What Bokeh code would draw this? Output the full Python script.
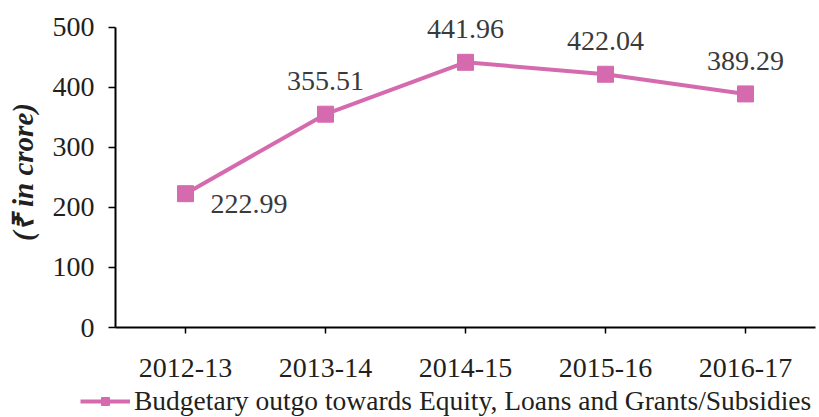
from bokeh.plotting import figure
from bokeh.layouts import column
from bokeh.models import ColumnDataSource, Range1d, Legend, LegendItem, FixedTicker
from bokeh.embed import file_html
from bokeh.resources import INLINE
from bokeh.core.properties import value

years = ["2012-13", "2013-14", "2014-15", "2015-16", "2016-17"]
outgo = [222.99, 355.51, 441.96, 422.04, 389.29]
labels = ["222.99", "355.51", "441.96", "422.04", "389.29"]
y_ticks = [0, 100, 200, 300, 400, 500]
series_name = "Budgetary outgo towards Equity, Loans and Grants/Subsidies"

COLOR = "#d56bae"
TEXT = "#231f20"
LABEL = "#3a3a3a"
FONT = "Liberation Serif"

p = figure(x_range=years, y_range=Range1d(0, 518.3), width=819, height=387,
           output_backend="svg", toolbar_location=None,
           min_border_left=115, min_border_top=16, min_border_right=4, min_border_bottom=60)
p.outline_line_color = None
p.xgrid.grid_line_color = None
p.ygrid.grid_line_color = None
p.background_fill_color = None
p.border_fill_color = "white"

src = ColumnDataSource(dict(x=years, y=outgo, t=labels))
ln = p.line("x", "y", source=src, line_color=COLOR, line_width=4)
sc = p.scatter("x", "y", source=src, marker="square", size=16,
               fill_color=COLOR, line_color=COLOR)

first = ColumnDataSource(dict(x=years[:1], y=outgo[:1], t=labels[:1]))
rest = ColumnDataSource(dict(x=years[1:], y=outgo[1:], t=labels[1:]))
p.text("x", "y", text="t", source=first, x_offset=25, y_offset=10,
       text_font=value(FONT), text_font_size="28px", text_color=LABEL,
       text_align="left", text_baseline="middle")
p.text("x", "y", text="t", source=rest, x_offset=0, y_offset=-33,
       text_font=value(FONT), text_font_size="28px", text_color=LABEL,
       text_align="center", text_baseline="middle")

for ax in (p.xaxis[0], p.yaxis[0]):
    ax.axis_line_color = "black"
    ax.axis_line_width = 2
    ax.major_tick_line_color = "black"
    ax.major_tick_line_width = 1.5
    ax.major_tick_in = 0
    ax.minor_tick_line_color = None
    ax.major_label_text_font = FONT
    ax.major_label_text_font_size = "28px"
    ax.major_label_text_color = TEXT

p.yaxis.ticker = FixedTicker(ticks=y_ticks)
p.yaxis.bounds = (0, 500)
p.yaxis.major_tick_out = 7
p.yaxis.major_label_standoff = 14
p.yaxis.axis_label = "(\u20b9 in crore)"
p.yaxis.axis_label_text_font = FONT
p.yaxis.axis_label_text_font_style = "bold italic"
p.yaxis.axis_label_text_font_size = "29px"
p.yaxis.axis_label_text_color = TEXT
p.yaxis.axis_label_standoff = 11

p.xaxis.major_tick_out = 6
p.xaxis.major_label_standoff = 25

# legend strip below the chart (same series, drawn out of view so only the legend shows)
q = figure(width=819, height=30, x_range=years, y_range=Range1d(10000, 10001),
           x_axis_type=None, y_axis_type=None,
           output_backend="svg", toolbar_location=None,
           min_border_left=0, min_border_right=0, min_border_top=0, min_border_bottom=0)
q.grid.grid_line_color = None
q.outline_line_color = None
qln = q.line("x", "y", source=src, line_color=COLOR, line_width=4)
qsc = q.scatter("x", "y", source=src, marker="square", size=14,
                fill_color=COLOR, line_color=COLOR)

legend_x = -35
if hasattr(q, "frame_align"):
    q.frame_align = False
    p.frame_align = False
    legend_x = 80

legend = Legend(items=[LegendItem(label=series_name, renderers=[qln, qsc])],
                location=(legend_x, 0), orientation="horizontal",
                label_text_font=FONT, label_text_font_size="27.5px", label_text_color=TEXT,
                glyph_width=50, glyph_height=20, padding=0, margin=0, spacing=0,
                label_standoff=4, background_fill_alpha=0, border_line_color=None)
q.add_layout(legend, "center")

layout = column(p, q, spacing=0)
open("out.html", "w").write(file_html(layout, INLINE))
